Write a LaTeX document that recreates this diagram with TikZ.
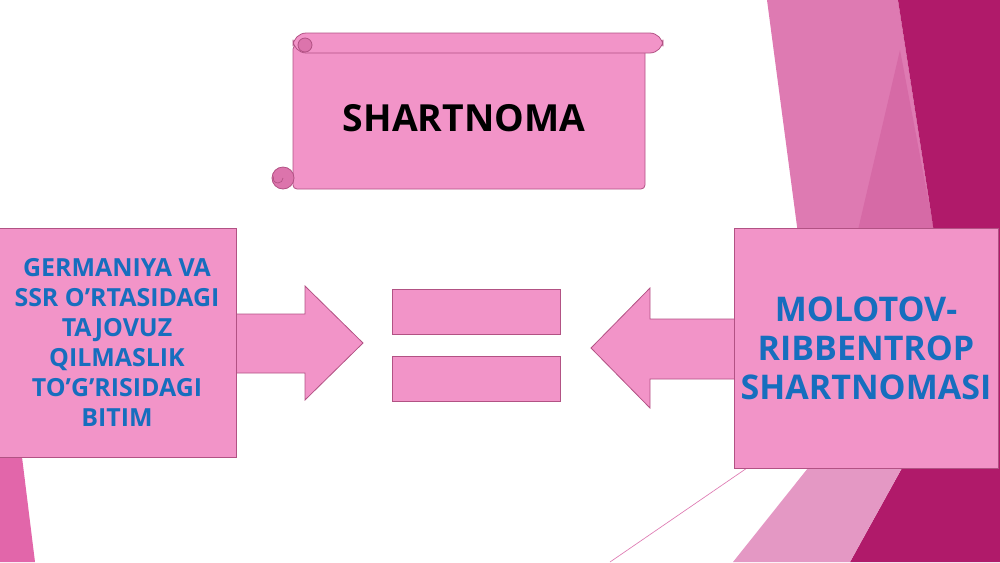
\documentclass[tikz,border=0pt]{standalone}
\usepackage{fontspec}
\setmainfont{Open Sans}

\definecolor{boxpink}{RGB}{242,148,200}
\definecolor{boxedge}{RGB}{178,82,132}
\definecolor{curlpink}{RGB}{220,116,172}
\definecolor{textblue}{RGB}{22,110,190}
\definecolor{bgmagenta}{RGB}{176,26,106}
\definecolor{bgmid}{RGB}{222,122,178}
\definecolor{bgdeep}{RGB}{214,106,166}
\definecolor{bglight}{RGB}{228,152,196}
\definecolor{bgstrip}{RGB}{226,102,170}

\tikzset{
  pinkbox/.style={draw=boxedge, fill=boxpink, line width=0.6pt, inner sep=0pt},
  bigarrow/.style={draw=boxedge, fill=boxpink, line width=0.6pt, line join=miter},
  sidetext/.style={text=textblue, align=center},
}

\begin{document}
\begin{tikzpicture}[x=0.75pt, y=-0.75pt]
  \useasboundingbox (0,0) rectangle (1000,562);
  % background corner shapes
  \fill[bgmid] (767,0) -- (898,0) -- (960,400) -- (820,400) -- cycle;
  \fill[bgdeep] (900,50) -- (858,230) -- (934,230) -- cycle;
  \fill[bgmagenta] (898,0) -- (1000,0) -- (1000,562) -- (850,562) -- (902,468) -- (960,400) -- cycle;
  \fill[bglight] (808,468) -- (902,468) -- (850,562) -- (733,562) -- cycle;
  \fill[bgstrip] (0,457) -- (22,457) -- (35,562) -- (0,562) -- cycle;
  \draw[bgmid, line width=0.5pt] (772,0) -- (820,300);
  \draw[bgmid, line width=0.5pt] (747,468) -- (610,562);

  % title scroll
  \draw[pinkbox, rounded corners=3pt] (293,45) rectangle (645,189);
  \draw[pinkbox, rounded corners=10pt] (293,33) rectangle (663,53);
  \draw[boxedge, fill=curlpink, line width=0.6pt] (305,45) circle (7);
  \draw[boxedge, fill=curlpink, line width=0.6pt] (283,178) circle (11);
  \draw[boxedge, line width=0.5pt] (283,178) arc (0:200:5);
  \node[font=\fontsize{28}{33}\selectfont\bfseries] (title) at (464,118) {SHARTNOMA};

  % block arrows
  \draw[bigarrow] (225,314) -- (305,314) -- (305,286) -- (363,343) -- (305,400) -- (305,373) -- (225,373) -- cycle;
  \draw[bigarrow] (744,319) -- (650,319) -- (650,288) -- (591,348) -- (650,408) -- (650,379) -- (744,379) -- cycle;

  % side boxes
  \node[pinkbox, sidetext, minimum width=178.5pt, minimum height=171.75pt,
        font=\fontsize{18.7}{22.4}\selectfont\bfseries] (pact) at (117,342.5)
        {GERMANIYA VA\\SSR O’RTASIDAGI\\TAJOVUZ\\QILMASLIK\\TO’G’RISIDAGI\\BITIM};
  \node[pinkbox, sidetext, minimum width=198pt, minimum height=180pt,
        font=\fontsize{25.5}{29.3}\selectfont\bfseries] (molotov) at (866,348)
        {MOLOTOV-\\RIBBENTROP\\SHARTNOMASI};

  % equals sign
  \node[pinkbox, minimum width=126pt, minimum height=33.75pt] (eqtop) at (476,311.5) {};
  \node[pinkbox, minimum width=126pt, minimum height=33.75pt] (eqbot) at (476,378.5) {};
\end{tikzpicture}
\end{document}
